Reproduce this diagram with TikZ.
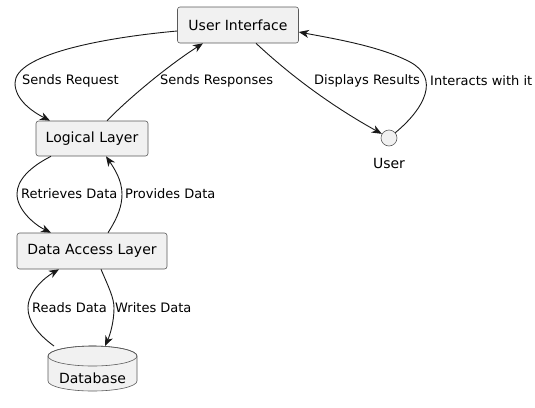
\documentclass[tikz,border=0pt]{standalone}
\usepackage{fontspec}
\setmainfont{DejaVu Sans}
\usetikzlibrary{arrows.meta,calc}
\definecolor{boxfill}{HTML}{F1F1F1}
\definecolor{boxline}{HTML}{5A5A5A}
\definecolor{edge}{HTML}{181818}
\tikzset{
  comp/.style={draw=boxline, fill=boxfill, line width=0.6pt, rounded corners=2.5pt,
    font=\fontsize{14}{16}\selectfont, inner sep=0pt},
  conn/.style={draw=edge, line width=0.9pt, -{Stealth[length=10pt,width=8pt,inset=3pt]}},
  lbl/.style={font=\fontsize{13}{15}\selectfont, inner sep=0pt, anchor=west, text=black},
}
\begin{document}
\begin{tikzpicture}[x=1pt,y=-1pt]
\useasboundingbox (0,0) rectangle (535,407);
% nodes
\node[comp, minimum width=121pt, minimum height=36pt] (ui) at (238,25) {User Interface};
\node[comp, minimum width=112pt, minimum height=35pt] (ll) at (92,138.5) {Logical Layer};
\node[comp, minimum width=150pt, minimum height=36pt] (dal) at (92,251) {Data Access Layer};
\node[circle, draw=boxline, fill=boxfill, line width=0.6pt, minimum size=16pt, inner sep=0pt] (user) at (389,138) {};
\node[font=\fontsize{14}{16}\selectfont, inner sep=0pt] (userlbl) at (389,163) {User};
% database cylinder
\coordinate (db) at (92.5,369);
\filldraw[draw=boxline, fill=boxfill, line width=0.6pt]
  (48,356) -- (48,381) arc[start angle=180, end angle=360, x radius=44.5pt, y radius=10pt]
  -- (137,356) arc[start angle=0, end angle=180, x radius=44.5pt, y radius=10pt] -- cycle;
\draw[draw=boxline, line width=0.6pt] (92.5,356) ellipse[x radius=44.5pt, y radius=10pt];
\node[font=\fontsize{14}{16}\selectfont, inner sep=0pt] (dbl) at (92.5,378) {Database};
\coordinate (dbtopL) at (54,346);
\coordinate (dbtopR) at (105,346);
% edges
\draw[conn] ($(ui.west)+(0,6)$) .. controls (100,38) and (15,55) .. (15,83)
  .. controls (15,100) and (33,112) .. ($(ll.north)+(-42,0)$);
\node[lbl] (l1) at (22,81) {Sends Request};
\draw[conn] ($(ll.north)+(15,0)$) .. controls (132,95) and (172,63) .. ($(ui.south)+(-35,0)$);
\node[lbl] (l2) at (160,81) {Sends Responses};
\draw[conn] ($(ui.south)+(18,0)$) .. controls (290,75) and (330,105) .. (user.150);
\node[lbl] (l3) at (314,81) {Displays Results};
\draw[conn] (user.40) .. controls (425,108) and (440,78) .. (410,62)
  .. controls (380,46) and (330,38) .. ($(ui.east)+(0,7)$);
\node[lbl] (l4) at (430,81) {Interacts with it};
\draw[conn] ($(ll.south)+(-41,0)$) .. controls (30,167) and (17,180) .. (17,194)
  .. controls (17,210) and (35,225) .. ($(dal.north)+(-41,0)$);
\node[lbl] (l5) at (21,194) {Retrieves Data};
\draw[conn] ($(dal.north)+(16,0)$) .. controls (118,217) and (122,206) .. (122,194)
  .. controls (122,180) and (114,168) .. ($(ll.south)+(14,0)$);
\node[lbl] (l6) at (125,194) {Provides Data};
\draw[conn] (dbtopL) .. controls (36,333) and (28,320) .. (28,308)
  .. controls (28,292) and (44,278) .. ($(dal.south)+(-33,0)$);
\node[lbl] (l7) at (32,308) {Reads Data};
\draw[conn] ($(dal.south)+(9,0)$) .. controls (109,288) and (114,298) .. (114,308)
  .. controls (114,322) and (110,335) .. (dbtopR);
\node[lbl] (l8) at (115,308) {Writes Data};
\end{tikzpicture}
\end{document}
